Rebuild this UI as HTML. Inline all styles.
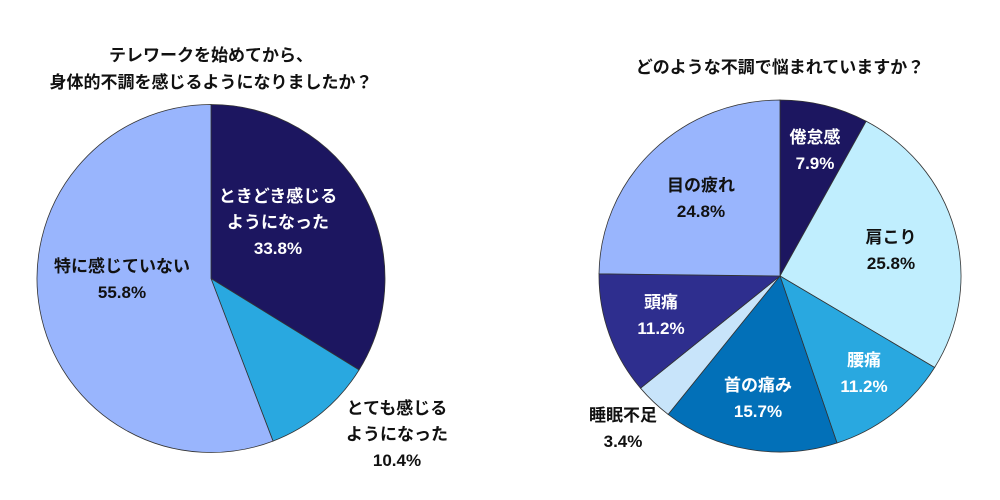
<!DOCTYPE html>
<html><head><meta charset="utf-8">
<style>
html,body{margin:0;padding:0;background:#fff;}
svg{display:block;}
text{font-family:"Liberation Sans","Noto Sans CJK JP",sans-serif;font-weight:bold;font-size:17px;text-anchor:middle;}
</style></head>
<body>
<svg id="chart" width="1000" height="500" viewBox="0 0 1000 500">
<text x="211" y="61" fill="#111">テレワークを始めてから、</text>
<text x="211" y="88" fill="#111">身体的不調を感じるようになりましたか？</text>
<text x="780" y="73" fill="#111">どのような不調で悩まれていますか？</text>
<g id="left"></g>
<g id="right"></g>
</svg>
<script>
const leftCategories=["ときどき感じるようになった","とても感じるようになった","特に感じていない"];
const leftValues=[33.8,10.4,55.8];
const leftColors=["#1c1660","#29a8e0","#99b5fd"];
const leftLabelLines=[["ときどき感じる","ようになった","33.8%"],["とても感じる","ようになった","10.4%"],["特に感じていない","55.8%"]];
const leftLabelPos=[[278,202,"#fff"],[397,414,"#111"],[122,272,"#111"]];

const rightCategories=["倦怠感","肩こり","腰痛","首の痛み","睡眠不足","頭痛","目の疲れ"];
const rightValues=[7.9,25.8,11.2,15.7,3.4,11.2,24.8];
const rightColors=["#1c1660","#c0eefe","#29a8e0","#0270b8","#c8e4fa","#2e2e8e","#99b5fd"];
const rightLabelLines=[["倦怠感","7.9%"],["肩こり","25.8%"],["腰痛","11.2%"],["首の痛み","15.7%"],["睡眠不足","3.4%"],["頭痛","11.2%"],["目の疲れ","24.8%"]];
const rightLabelPos=[[815,143,"#fff"],[891,243,"#111"],[864,366,"#fff"],[758,391,"#fff"],[623,421,"#111"],[661,308,"#fff"],[701,191,"#111"]];

const NS="http://www.w3.org/2000/svg";
function drawPie(gid,values,colors,cats,cx,cy,rx,ry,lines,pos){
  const g=document.getElementById(gid);
  const total=values.reduce((a,b)=>a+b,0);
  let a0=0;
  values.forEach((v,i)=>{
    const a1=a0+v/total*2*Math.PI;
    const x0=cx+rx*Math.sin(a0),y0=cy-ry*Math.cos(a0);
    const x1=cx+rx*Math.sin(a1),y1=cy-ry*Math.cos(a1);
    const large=(a1-a0)>Math.PI?1:0;
    const p=document.createElementNS(NS,"path");
    p.setAttribute("d",`M${cx},${cy}L${x0},${y0}A${rx},${ry} 0 ${large} 1 ${x1},${y1}Z`);
    p.setAttribute("fill",colors[i]);
    p.setAttribute("stroke","#333");
    p.setAttribute("stroke-width","0.8");
    
    
    g.appendChild(p);
    a0=a1;
  });
  lines.forEach((ls,i)=>{
    const t=document.createElementNS(NS,"text");
    t.setAttribute("x",pos[i][0]);t.setAttribute("y",pos[i][1]);
    t.setAttribute("fill",pos[i][2]);
    
    
    ls.forEach((s,j)=>{
      const ts=document.createElementNS(NS,"tspan");
      ts.setAttribute("x",pos[i][0]);
      ts.setAttribute("dy",j===0?0:26);
      ts.textContent=s;
      t.appendChild(ts);
    });
    g.appendChild(t);
  });
}
drawPie("left",leftValues,leftColors,leftCategories,211,278.5,174,174,leftLabelLines,leftLabelPos);
drawPie("right",rightValues,rightColors,rightCategories,780,276,181,176,rightLabelLines,rightLabelPos);
</script>
</body></html>
